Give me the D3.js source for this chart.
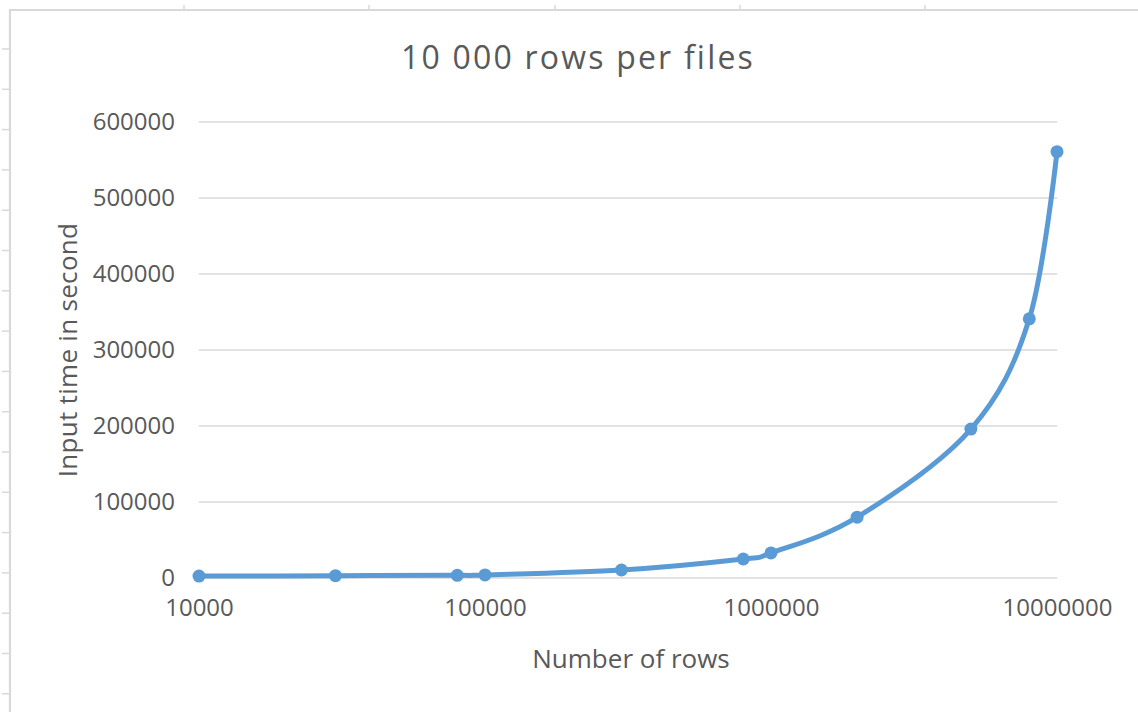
<!DOCTYPE html>
<html>
<head>
<meta charset="utf-8">
<script src="https://cdn.jsdelivr.net/npm/d3@7/dist/d3.min.js"></script>
<style>
  html, body { margin: 0; padding: 0; background: #fff; }
  svg { display: block; }
  text { font-family: "Open Sans", "Liberation Sans", sans-serif; fill: #595959; }
</style>
</head>
<body>
<svg id="chart" width="1138" height="712"></svg>
<script>
// Rows loaded vs. input time (seconds)
const rows = [10000, 30000, 80000, 100000, 300000, 800000, 1000000, 2000000, 5000000, 8000000, 10000000];
const seconds = [2500, 3000, 3500, 4000, 10500, 25000, 33000, 80000, 196000, 341000, 561000];
const xTicks = [10000, 100000, 1000000, 10000000];
const yTicks = [0, 100000, 200000, 300000, 400000, 500000, 600000];
const title = "10 000 rows per files";
const xTitle = "Number of rows";
const yTitle = "Input time in second";

// Worksheet grid marks around the chart object
const sheetColMarks = [184, 369, 555, 740, 925];
const sheetRowMarks = d3.range(17).map(i => 49 + i * 40.3);

const W = 1138, H = 712;
const svg = d3.select("#chart");

const x = d3.scaleLog().domain([10000, 10000000]).range([199, 1057]);
const y = d3.scaleLinear().domain([0, 600000]).range([578, 122]);

// sheet frame
const frame = svg.append("g").attr("stroke", "#d9d9d9").attr("fill", "none");
frame.append("path").attr("d", `M10,${H} V10 H${W}`).attr("stroke-width", 2.2);
frame.selectAll("line.c").data(sheetColMarks).join("line")
  .attr("x1", d => d).attr("x2", d => d).attr("y1", 5).attr("y2", 10).attr("stroke-width", 1.5);
frame.selectAll("line.r").data(sheetRowMarks).join("line")
  .attr("y1", d => d).attr("y2", d => d).attr("x1", 2).attr("x2", 10).attr("stroke-width", 1.5);

// horizontal gridlines
svg.append("g").selectAll("line").data(yTicks).join("line")
  .attr("x1", x.range()[0]).attr("x2", x.range()[1])
  .attr("y1", d => y(d)).attr("y2", d => y(d))
  .attr("stroke", "#d9d9d9").attr("stroke-width", 1.5);

// y axis labels
const yAxis = svg.append("g").attr("transform", "translate(199,0)")
  .call(d3.axisLeft(y).tickValues(yTicks).tickFormat(d3.format("d")).tickSize(0).tickPadding(24));
yAxis.select(".domain").remove();
yAxis.selectAll("text").style("font-size", "24px").attr("fill", "#595959")
  .attr("font-family", "Open Sans, Liberation Sans, sans-serif");

// x axis labels
const xAxis = svg.append("g").attr("transform", "translate(0,578)")
  .call(d3.axisBottom(x).tickValues(xTicks).tickFormat(d3.format("d")).tickSize(0).tickPadding(21));
xAxis.select(".domain").remove();
xAxis.selectAll("text").style("font-size", "24px").attr("fill", "#595959")
  .attr("font-family", "Open Sans, Liberation Sans, sans-serif");

// series line
const pts = rows.map((r, i) => [x(r), y(seconds[i])]);
svg.append("path")
  .attr("d", d3.line().curve(d3.curveCardinal.tension(0))(pts))
  .attr("fill", "none").attr("stroke", "#5b9bd5").attr("stroke-width", 5)
  .attr("stroke-linejoin", "round").attr("stroke-linecap", "round");

svg.append("g").selectAll("circle").data(pts).join("circle")
  .attr("cx", d => d[0]).attr("cy", d => d[1]).attr("r", 6.5)
  .attr("fill", "#5b9bd5");

// titles
svg.append("text").attr("x", 578).attr("y", 69).attr("text-anchor", "middle")
  .style("font-size", "32px").style("letter-spacing", "2.2px").text(title);
svg.append("text").attr("x", 631).attr("y", 668).attr("text-anchor", "middle")
  .style("font-size", "26px").text(xTitle);
svg.append("text").attr("transform", "translate(77,350) rotate(-90)").attr("text-anchor", "middle")
  .style("font-size", "26px").style("letter-spacing", "0.3px").text(yTitle);
</script>
</body>
</html>
